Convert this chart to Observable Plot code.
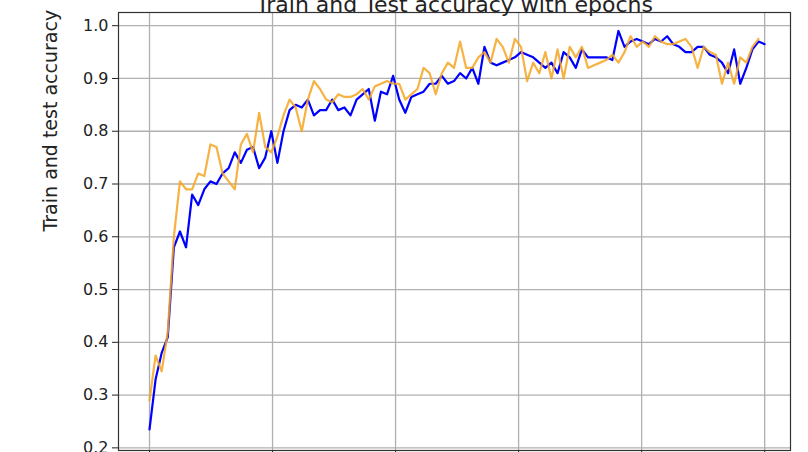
<!DOCTYPE html>
<html>
<head>
<meta charset="utf-8">
<script src="https://cdn.jsdelivr.net/npm/d3@7"></script>
<script src="https://cdn.jsdelivr.net/npm/@observablehq/plot@0.6"></script>
<style>
  body { margin: 0; background: white; overflow: hidden; }
</style>
</head>
<body>
<div id="chart"></div>
<script>
// accuracy per epoch
const train = [0.235, 0.33, 0.38, 0.41, 0.58, 0.61, 0.58, 0.68, 0.66, 0.69,
  0.705, 0.70, 0.72, 0.73, 0.76, 0.74, 0.765, 0.77, 0.73, 0.75,
  0.80, 0.74, 0.80, 0.84, 0.85, 0.845, 0.86, 0.83, 0.84, 0.84,
  0.86, 0.84, 0.845, 0.83, 0.86, 0.87, 0.88, 0.82, 0.875, 0.87,
  0.905, 0.86, 0.835, 0.865, 0.87, 0.875, 0.89, 0.89, 0.905, 0.89,
  0.895, 0.91, 0.90, 0.92, 0.89, 0.96, 0.93, 0.925, 0.93, 0.935,
  0.94, 0.95, 0.945, 0.94, 0.93, 0.92, 0.93, 0.91, 0.95, 0.94,
  0.92, 0.955, 0.94, 0.94, 0.94, 0.94, 0.935, 0.99, 0.96, 0.97,
  0.975, 0.97, 0.965, 0.975, 0.97, 0.98, 0.965, 0.96, 0.95, 0.95,
  0.96, 0.96, 0.945, 0.94, 0.93, 0.91, 0.955, 0.89, 0.92, 0.955,
  0.97, 0.965];
const test = [0.29, 0.375, 0.345, 0.42, 0.60, 0.705, 0.69, 0.69, 0.72, 0.715,
  0.775, 0.77, 0.72, 0.705, 0.69, 0.775, 0.795, 0.76, 0.835, 0.77,
  0.76, 0.79, 0.83, 0.86, 0.845, 0.80, 0.86, 0.895, 0.88, 0.86,
  0.855, 0.87, 0.865, 0.865, 0.87, 0.88, 0.86, 0.885, 0.89, 0.895,
  0.89, 0.89, 0.86, 0.87, 0.88, 0.92, 0.91, 0.87, 0.91, 0.93,
  0.92, 0.97, 0.92, 0.92, 0.94, 0.95, 0.93, 0.975, 0.96, 0.93,
  0.975, 0.96, 0.895, 0.93, 0.91, 0.95, 0.90, 0.955, 0.90, 0.96,
  0.94, 0.96, 0.92, 0.925, 0.93, 0.935, 0.945, 0.93, 0.95, 0.98,
  0.96, 0.97, 0.96, 0.98, 0.97, 0.965, 0.965, 0.97, 0.975, 0.96,
  0.92, 0.96, 0.95, 0.945, 0.89, 0.93, 0.89, 0.94, 0.93, 0.96,
  0.975];
const yTicks = [0.2, 0.3, 0.4, 0.5, 0.6, 0.7, 0.8, 0.9, 1.0];
const xTicks = [0, 20, 40, 60, 80, 100];

// 101 readings spread over epochs 0..99
const step = 99 / 100;
const trainRows = train.map((v, i) => ({epoch: i * step, acc: v}));
const testRows = test.map((v, i) => ({epoch: i * step, acc: v}));

const chart = Plot.plot({
  width: 808,
  height: 472,
  marginLeft: 118,
  marginRight: 18,
  marginTop: 12,
  marginBottom: 22,
  style: {fontFamily: "DejaVu Sans", fontSize: "16px", color: "#222", background: "white"},
  x: {domain: [-5.04, 104.2], ticks: xTicks, label: null, tickSize: 5},
  y: {domain: [0.195, 1.025], ticks: yTicks, tickFormat: d3.format(".1f"), label: null, tickSize: 5},
  marks: [
    Plot.gridX(xTicks, {stroke: "#b0b0b0", strokeOpacity: 1, strokeWidth: 1.3}),
    Plot.gridY(yTicks, {stroke: "#b0b0b0", strokeOpacity: 1, strokeWidth: 1.3}),
    Plot.axisY({ticks: yTicks, tickFormat: d3.format(".1f"), fontSize: 16, tickPadding: 4}),
    Plot.axisX({ticks: xTicks, tickFormat: () => "", label: null}),
    Plot.line(trainRows, {x: "epoch", y: "acc", stroke: "blue", strokeWidth: 2.2}),
    Plot.line(testRows, {x: "epoch", y: "acc", stroke: "#f5a623", strokeOpacity: 0.85, strokeWidth: 2.2}),
    Plot.frame({stroke: "#333", strokeWidth: 1.2}),
    Plot.text(["Train and Test accuracy with epochs"], {frameAnchor: "top", dy: -16, fontSize: 22, fill: "#222"}),
    Plot.text(["Train and test accuracy"], {frameAnchor: "left", dx: -68, rotate: -90, fontSize: 19, fill: "#222"})
  ]
});
document.getElementById("chart").append(chart);
</script>
</body>
</html>
